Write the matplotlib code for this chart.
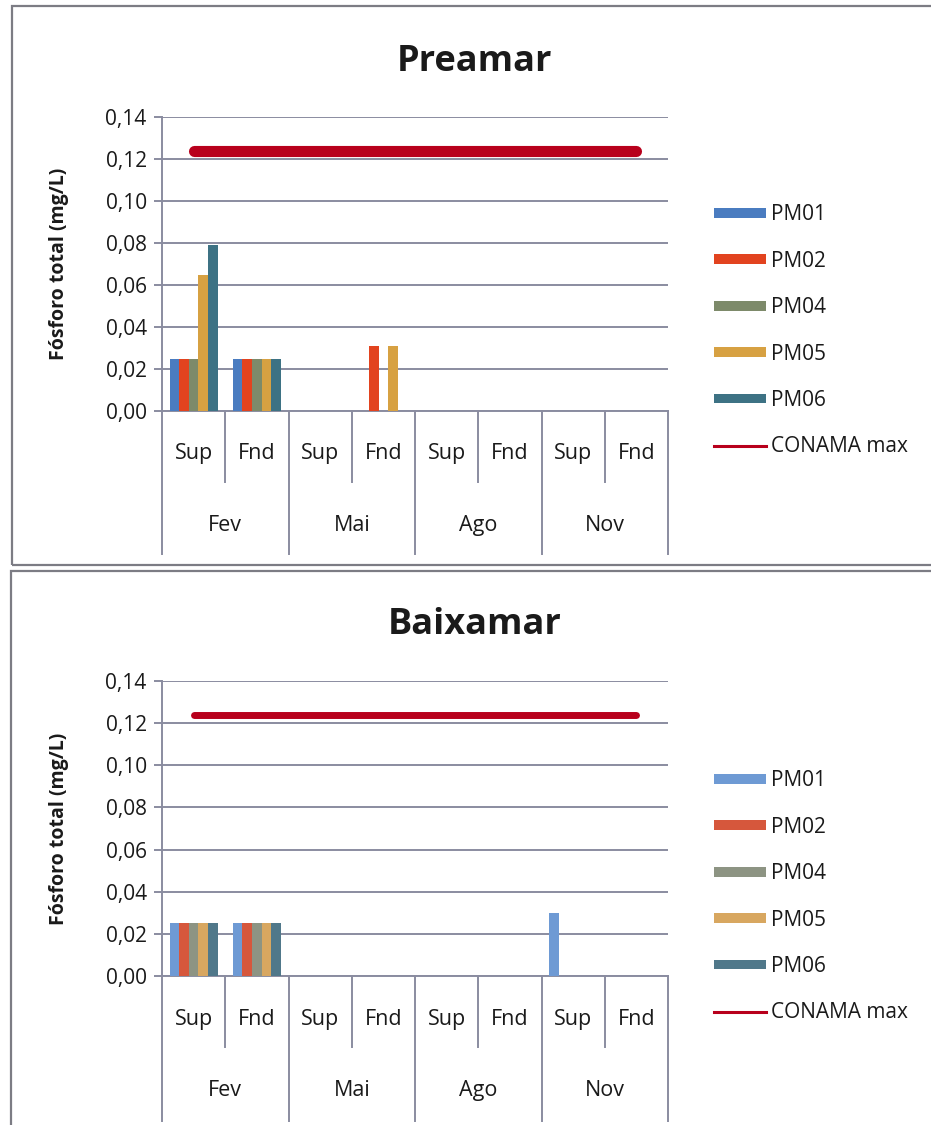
import numpy as np
import matplotlib
matplotlib.use("Agg")
import matplotlib.pyplot as plt
from matplotlib.patches import Rectangle, Patch
from matplotlib.lines import Line2D
from matplotlib.ticker import FuncFormatter, MultipleLocator
import matplotlib.transforms as mtransforms

plt.rcParams['font.family'] = ['Open Sans', 'DejaVu Sans']

# --- data ---
depths = ["Sup", "Fnd", "Sup", "Fnd", "Sup", "Fnd", "Sup", "Fnd"]
months = ["Fev", "Mai", "Ago", "Nov"]
stations = ["PM01", "PM02", "PM04", "PM05", "PM06"]
nan = np.nan

# Preamar (high tide), fósforo total mg/L
pre_pm01 = [0.025, 0.025, nan, nan, nan, nan, nan, nan]
pre_pm02 = [0.025, 0.025, nan, 0.031, nan, nan, nan, nan]
pre_pm04 = [0.025, 0.025, nan, nan, nan, nan, nan, nan]
pre_pm05 = [0.065, 0.025, nan, 0.031, nan, nan, nan, nan]
pre_pm06 = [0.079, 0.025, nan, nan, nan, nan, nan, nan]

# Baixamar (low tide)
bai_pm01 = [0.025, 0.025, nan, nan, nan, nan, 0.030, nan]
bai_pm02 = [0.025, 0.025, nan, nan, nan, nan, nan, nan]
bai_pm04 = [0.025, 0.025, nan, nan, nan, nan, nan, nan]
bai_pm05 = [0.025, 0.025, nan, nan, nan, nan, nan, nan]
bai_pm06 = [0.025, 0.025, nan, nan, nan, nan, nan, nan]

conama_max = 0.124

pre_colors = ["#4a7cc0", "#e2431f", "#7d8a6a", "#d7a142", "#3d7284"]
bai_colors = ["#6e9ad4", "#d6573c", "#8d9483", "#d8a760", "#50788a"]
grid_col = "#8a8ca0"
text_col = "#1a1a1a"

W, H = 931, 1125
fig = plt.figure(figsize=(W / 100, H / 100), dpi=100)


def px(x0, y0, x1, y1):
    # pixel box (top-left origin) -> figure fraction rect
    return [x0 / W, 1 - y1 / H, (x1 - x0) / W, (y1 - y0) / H]


# panel frames
for (x0, y0, x1, y1) in [(12, 6, 940, 565), (11, 571, 940, 1140)]:
    fig.patches.append(Rectangle((x0 / W, 1 - y1 / H), (x1 - x0) / W, (y1 - y0) / H,
                                 transform=fig.transFigure, fill=False,
                                 edgecolor="#7c7c84", lw=1.6))


def draw_panel(rect, title, title_y, series, colors, line_w, leg_top, sep_short, sep_long,
               lab_sub, lab_mon):
    ax = fig.add_axes(rect)
    x = np.arange(len(depths))
    bw = 0.152
    for i, (vals, col) in enumerate(zip(series, colors)):
        ax.bar(x + (i - 2) * bw, vals, width=bw, color=col, edgecolor="none", zorder=3)
    ax.plot(x, [conama_max] * len(x), color="#b8001c", lw=line_w,
            solid_capstyle="round", zorder=4)

    ax.set_xlim(-0.5, len(depths) - 0.5)
    ax.set_ylim(0, 0.14)
    ax.yaxis.set_major_locator(MultipleLocator(0.02))
    ax.yaxis.set_major_formatter(FuncFormatter(lambda v, p: f"{v:.2f}".replace(".", ",")))
    ax.grid(axis="y", color=grid_col, lw=1.4, zorder=0)
    ax.set_axisbelow(True)
    for s in ["top", "right"]:
        ax.spines[s].set_visible(False)
    ax.spines["left"].set_color(grid_col)
    ax.spines["left"].set_linewidth(1.4)
    ax.spines["bottom"].set_color(grid_col)
    ax.spines["bottom"].set_linewidth(1.4)
    ax.tick_params(axis="y", length=6, color=grid_col, width=1.4,
                   labelsize=15, labelcolor=text_col, pad=5)
    ax.set_xticks([])
    ax.set_ylabel("Fósforo total (mg/L)", fontsize=14, fontweight="bold",
                  color=text_col, labelpad=26)

    # two-level category axis
    trans = mtransforms.blended_transform_factory(ax.transData, ax.transAxes)
    for k in range(len(depths) + 1):
        xb = k - 0.5
        y_end = sep_long if k % 2 == 0 else sep_short
        ax.plot([xb, xb], [0, y_end], transform=trans, color=grid_col, lw=1.4,
                clip_on=False)
    for k, d in enumerate(depths):
        ax.text(k, lab_sub, d, transform=trans, ha="center", va="center",
                fontsize=15.5, color=text_col)
    for m, mon in enumerate(months):
        ax.text(2 * m + 0.5, lab_mon, mon, transform=trans, ha="center", va="center",
                fontsize=15.5, color=text_col)

    fig.text(475 / W, 1 - title_y / H, title, ha="center", va="center",
             fontsize=26, fontweight="bold", color=text_col)

    handles = [Patch(facecolor=c, edgecolor="none") for c in colors]
    handles.append(Line2D([], [], color="#b8001c", lw=2.2))
    fig.legend(handles, stations + ["CONAMA max"], loc="upper left",
               bbox_to_anchor=(706 / W, 1 - leg_top / H), frameon=False,
               fontsize=15, handlelength=2.5, handleheight=0.34,
               handletextpad=0.22, labelspacing=1.22, labelcolor=text_col,
               borderaxespad=0)
    return ax


draw_panel(px(162, 117, 668, 411), "Preamar", 62,
           [pre_pm01, pre_pm02, pre_pm04, pre_pm05, pre_pm06], pre_colors, 8,
           196, -0.241, -0.486, -0.143, -0.388)
draw_panel(px(162, 681, 668, 976), "Baixamar", 625,
           [bai_pm01, bai_pm02, bai_pm04, bai_pm05, bai_pm06], bai_colors, 5,
           762, -0.24, -0.49, -0.146, -0.387)

fig.savefig("out.png", dpi=100, facecolor="white")
